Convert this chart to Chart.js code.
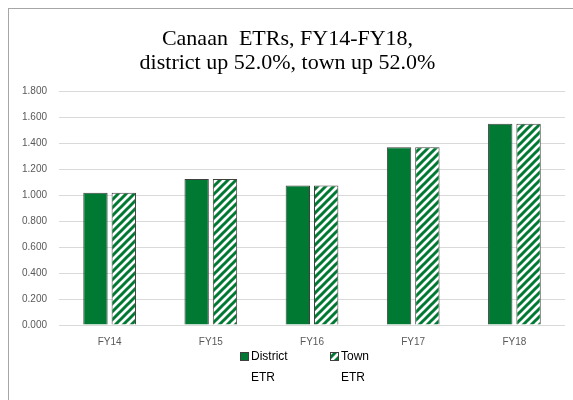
<!DOCTYPE html>
<html>
<head>
<meta charset="utf-8">
<script src="https://cdn.jsdelivr.net/npm/chart.js@4.4.0/dist/chart.umd.min.js"></script>
<style>
  html, body { margin: 0; padding: 0; background: #fff; }
  #wrap { width: 573px; height: 400px; }
</style>
</head>
<body>
<div id="wrap"><canvas id="grafico-etr" width="573" height="400"></canvas></div>
<script>
var anos = ['FY14', 'FY15', 'FY16', 'FY17', 'FY18'];
var etrDistrito = [1.020, 1.125, 1.075, 1.370, 1.550];
var etrCidade = [1.020, 1.125, 1.075, 1.370, 1.550];
var rotulos = ['District ETR', 'Town ETR'];

var verde = '#007a33';

// listras diagonais verdes sobre branco
function criarHachura() {
    var c = document.createElement('canvas');
    c.width = 8;
    c.height = 8;
    var g = c.getContext('2d');
    g.fillStyle = '#ffffff';
    g.fillRect(0, 0, 8, 8);
    g.strokeStyle = verde;
    g.lineWidth = 3;
    g.beginPath();
    g.moveTo(-2, 10); g.lineTo(10, -2);
    g.moveTo(-6, 6); g.lineTo(6, -6);
    g.moveTo(2, 14); g.lineTo(14, 2);
    g.stroke();
    return document.getElementById('grafico-etr').getContext('2d').createPattern(c, 'repeat');
}
var hachura = criarHachura();

// moldura e legenda desenhadas à mão
var molduraELegenda = {
    id: 'molduraELegenda',
    beforeDraw: function (chart) {
        var ctx = chart.ctx;
        ctx.save();
        ctx.strokeStyle = '#a6a6a6';
        ctx.lineWidth = 1;
        ctx.strokeRect(8.5, 8.5, 700, 500);
        ctx.restore();
    },
    afterDraw: function (chart) {
        var ctx = chart.ctx;
        var itens = [
            { x: 240, fill: verde, texto: rotulos[0] },
            { x: 330, fill: hachura, texto: rotulos[1] }
        ];
        ctx.save();
        ctx.font = '12px "Liberation Sans", Arial, sans-serif';
        ctx.textBaseline = 'middle';
        itens.forEach(function (it) {
            ctx.fillStyle = it.fill;
            ctx.fillRect(it.x, 352, 9, 9);
            ctx.strokeStyle = '#404040';
            ctx.lineWidth = 1;
            ctx.strokeRect(it.x + 0.5, 352.5, 8, 8);
            var partes = it.texto.split(' ');
            ctx.fillStyle = '#000';
            ctx.fillText(partes[0], it.x + 11, 357);
            ctx.fillText(partes[1], it.x + 11, 378);
        });
        ctx.restore();
    }
};

var graficoEtr = new Chart(document.getElementById('grafico-etr').getContext('2d'), {
    type: 'bar',
    data: {
        labels: anos,
        datasets: [{
            label: rotulos[0],
            data: etrDistrito,
            backgroundColor: verde,
            borderColor: '#404040',
            borderWidth: 1
        }, {
            label: rotulos[1],
            data: etrCidade,
            backgroundColor: hachura,
            borderColor: '#404040',
            borderWidth: 1
        }]
    },
    options: {
        responsive: false,
        animation: false,
        categoryPercentage: 0.56,
        barPercentage: 0.86,
        layout: {
            padding: { left: 10, right: 8, top: 0, bottom: 49 }
        },
        plugins: {
            legend: { display: false },
            tooltip: { enabled: false },
            title: {
                display: true,
                text: ['Canaan  ETRs, FY14-FY18,', 'district up 52.0%, town up 52.0%'],
                color: '#000',
                font: { family: '"Liberation Serif", "DejaVu Serif", serif', size: 22, weight: 'normal', lineHeight: 1.1 },
                padding: { top: 27, bottom: 16 }
            }
        },
        scales: {
            x: {
                grid: { display: false },
                border: { display: false },
                ticks: {
                    color: '#595959',
                    font: { family: '"Liberation Sans", Arial, sans-serif', size: 10 },
                    padding: 3
                }
            },
            y: {
                min: 0,
                max: 1.8,
                grid: { color: '#d9d9d9', drawTicks: false },
                border: { display: false },
                ticks: {
                    stepSize: 0.2,
                    color: '#595959',
                    font: { family: '"Liberation Sans", Arial, sans-serif', size: 10 },
                    padding: 12,
                    callback: function (v) { return v.toFixed(3); }
                }
            }
        }
    },
    plugins: [molduraELegenda]
});
</script>
</body>
</html>
